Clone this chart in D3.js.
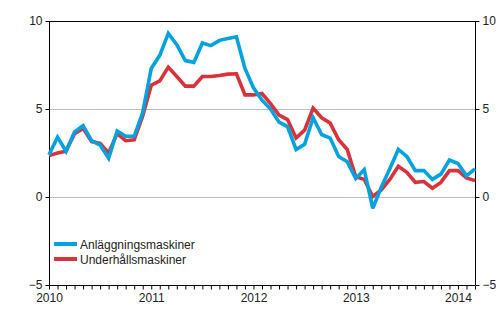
<!DOCTYPE html>
<html>
<head>
<meta charset="utf-8">
<script src="https://cdn.jsdelivr.net/npm/d3@7"></script>
<style>
  html, body { margin: 0; padding: 0; background: #fff; }
  svg { display: block; font-family: "Liberation Sans", Arial, sans-serif; }
</style>
</head>
<body>
<svg id="chart" width="500" height="330"></svg>
<script>
// Monthly index, January 2010 = 0 ... March 2014 = 50
const startYear = 2010;
const monthCount = 51;

const seriesNames = ["Anläggningsmaskiner", "Underhållsmaskiner"];
const seriesColors = ["#00a3e0", "#d9323a"];

// Annual change, %
const anlaggning = [
  2.4, 3.4, 2.6, 3.7, 4.05, 3.2, 2.95, 2.2, 3.75, 3.45, 3.45, 4.8,
  7.3, 8.05, 9.3, 8.65, 7.75, 7.65, 8.75, 8.6, 8.9, 9.0, 9.1, 7.3,
  6.2, 5.5, 5.0, 4.25, 4.0, 2.7, 3.0, 4.5, 3.55, 3.35, 2.3, 2.0,
  1.05, 1.55, -0.65, 0.55, 1.6, 2.7, 2.3, 1.5, 1.5, 1.0, 1.3, 2.1,
  1.9, 1.2, 1.6
];
const underhall = [
  2.35, 2.5, 2.6, 3.6, 3.9, 3.15, 3.05, 2.5, 3.6, 3.2, 3.25, 4.6,
  6.35, 6.6, 7.38, 6.85, 6.3, 6.3, 6.85, 6.85, 6.9, 6.98, 7.0, 5.8,
  5.8, 5.88, 5.3, 4.65, 4.4, 3.35, 3.8, 5.05, 4.5, 4.2, 3.25, 2.7,
  1.15, 1.0, 0.03, 0.4, 1.0, 1.74, 1.4, 0.83, 0.88, 0.5, 0.83, 1.5,
  1.5, 1.08, 0.93
];

const yTicks = [-5, 0, 5, 10];
const gridValues = [0, 5];
const yearLabels = ["2010", "2011", "2012", "2013", "2014"];

const margin = { top: 21, right: 25, bottom: 45, left: 49 };
const width = 500, height = 330;
const innerW = width - margin.left - margin.right;
const innerH = height - margin.top - margin.bottom;

const svg = d3.select("#chart");
const g = svg.append("g").attr("transform", `translate(${margin.left},${margin.top})`);

const x = d3.scaleLinear().domain([0, monthCount - 1]).range([0, innerW]);
const y = d3.scaleLinear().domain([-5, 10]).range([innerH, 0]);

// Grid lines
g.append("g").selectAll("line").data(gridValues).join("line")
  .attr("x1", 0).attr("x2", innerW)
  .attr("y1", d => Math.round(y(d)) + 0.5).attr("y2", d => Math.round(y(d)) + 0.5)
  .attr("stroke", "#bdbdbd").attr("stroke-width", 1);

// Top frame line
g.append("line")
  .attr("x1", 0).attr("x2", innerW).attr("y1", 0.5).attr("y2", 0.5)
  .attr("stroke", "#000").attr("stroke-width", 1);

// Left and right value axes
const leftAxis = d3.axisLeft(y).tickValues(yTicks).tickSize(4).tickPadding(3).tickFormat(d3.format("d"));
const rightAxis = d3.axisRight(y).tickValues(yTicks).tickSize(4).tickPadding(3).tickFormat(d3.format("d"));

const gl = g.append("g").attr("transform", "translate(0.5,0)").call(leftAxis);
const gr = g.append("g").attr("transform", `translate(${innerW + 0.5},0)`).call(rightAxis);

// Month axis
const monthTicks = d3.range(0, monthCount);
const bottomAxis = d3.axisBottom(x).tickValues(monthTicks).tickSize(4).tickPadding(4)
  .tickFormat(d => d % 12 === 0 ? yearLabels[d / 12] : "");
const gb = g.append("g").attr("transform", `translate(0,${innerH + 0.5})`).call(bottomAxis);

[gl, gr, gb].forEach(a => {
  a.select(".domain").attr("stroke", "#000").attr("stroke-width", 1);
  a.selectAll(".tick line").attr("stroke", "#000");
  a.selectAll("text").attr("fill", "#222").style("font-size", "12px")
    .style("font-family", "'Liberation Sans', Arial, sans-serif");
});
gl.select(".domain").attr("d", `M0,0V${innerH}`);
gr.select(".domain").attr("d", `M0,0V${innerH}`);
gb.select(".domain").attr("d", `M0,0H${innerW}`);

// Series lines
const line = d3.line().x((d, i) => x(i)).y(d => y(d));
[anlaggning, underhall].slice().reverse().forEach((vals, k) => {
  const idx = 1 - k;
  g.append("path")
    .datum(vals)
    .attr("fill", "none")
    .attr("stroke", seriesColors[idx])
    .attr("stroke-width", 3.6)
    .attr("stroke-linejoin", "miter")
    .attr("stroke-miterlimit", 3)
    .attr("d", line);
});

// Legend
const legend = svg.append("g").attr("transform", "translate(54,244)");
seriesNames.forEach((name, i) => {
  const row = legend.append("g").attr("transform", `translate(0,${i * 15})`);
  row.append("line").attr("x1", 0).attr("x2", 23).attr("y1", 0).attr("y2", 0)
    .attr("stroke", seriesColors[i]).attr("stroke-width", 4);
  row.append("text").attr("x", 26).attr("y", 4.5)
    .attr("fill", "#222").style("font-size", "12px").text(name);
});
</script>
</body>
</html>
